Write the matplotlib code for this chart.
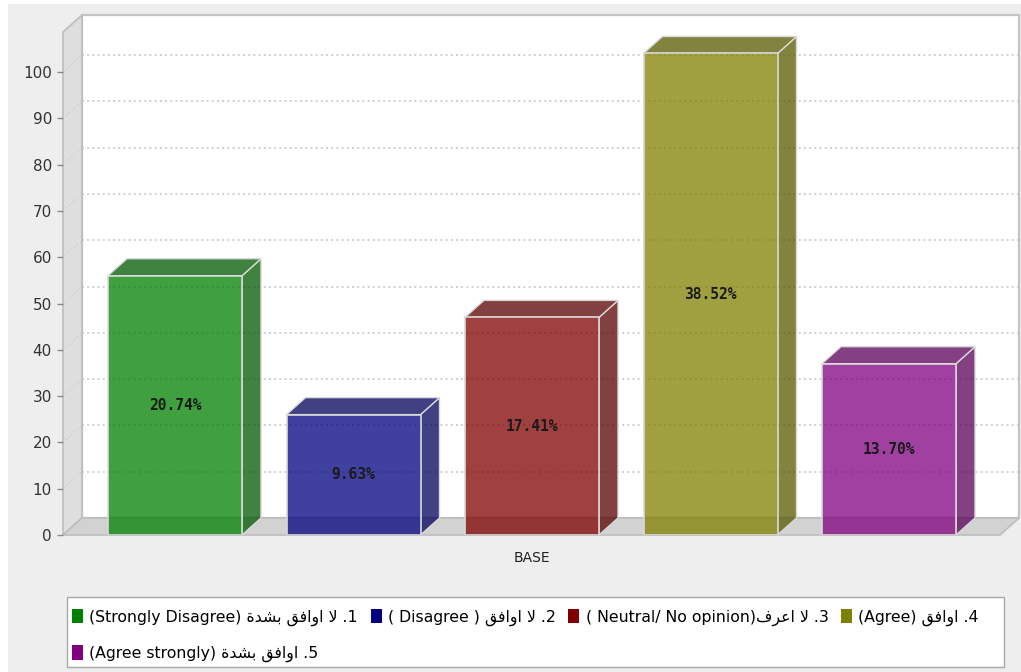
import re
import matplotlib
matplotlib.use('Agg')
import matplotlib.pyplot as plt
from matplotlib.patches import Polygon, Rectangle, Patch

# ---------------- data ----------------
category = 'BASE'
counts = [56, 26, 47, 104, 37]
legend_labels = [
    '1. لا اوافق بشدة (Strongly Disagree)',
    '2. لا اوافق ( Disagree )',
    '3. لا اعرف( Neutral/ No opinion)',
    '4. اوافق (Agree)',
    '5. اوافق بشدة (Agree strongly)',
]
yticks = [0, 10, 20, 30, 40, 50, 60, 70, 80, 90, 100]

# ---------------- style ----------------
base_colors = [(0, 0.5, 0), (0, 0, 0.5), (0.5, 0, 0), (0.5, 0.5, 0), (0.5, 0, 0.5)]
ALPHA = 0.75
W, H = 1021, 672

# --- minimal Arabic shaping (presentation forms) + visual ordering ---
FORMS = {  # isolated, final, initial, medial
    'ا': ('\uFE8D', '\uFE8E', None, None),
    'ب': ('\uFE8F', '\uFE90', '\uFE91', '\uFE92'),
    'ة': ('\uFE93', '\uFE94', None, None),
    'د': ('\uFEA9', '\uFEAA', None, None),
    'ر': ('\uFEAD', '\uFEAE', None, None),
    'ش': ('\uFEB5', '\uFEB6', '\uFEB7', '\uFEB8'),
    'ع': ('\uFEC9', '\uFECA', '\uFECB', '\uFECC'),
    'ف': ('\uFED1', '\uFED2', '\uFED3', '\uFED4'),
    'ق': ('\uFED5', '\uFED6', '\uFED7', '\uFED8'),
    'ل': ('\uFEDD', '\uFEDE', '\uFEDF', '\uFEE0'),
    'و': ('\uFEED', '\uFEEE', None, None),
    'لا': ('\uFEFB', '\uFEFC', None, None),
}


def shape(text):
    toks = []
    i = 0
    while i < len(text):
        if text[i] == 'ل' and i + 1 < len(text) and text[i + 1] == 'ا':
            toks.append('لا')
            i += 2
        else:
            toks.append(text[i])
            i += 1
    out = []
    for k, t in enumerate(toks):
        if t not in FORMS:
            out.append(t)
            continue
        prev = toks[k - 1] if k > 0 else None
        nxt = toks[k + 1] if k + 1 < len(toks) else None
        jp = prev in FORMS and FORMS[prev][2] is not None
        jn = nxt in FORMS and FORMS[t][2] is not None
        iso, fin, ini, med = FORMS[t]
        if jp and jn:
            out.append(med)
        elif jp:
            out.append(fin)
        elif jn:
            out.append(ini)
        else:
            out.append(iso)
    return ''.join(out)


def visual(label):
    m = re.match(r'(\d+)\.\s*([^(]*?)(\s*)(\(.*\))$', label)
    num, ar, sp, en = m.groups()
    return en + sp + shape(ar)[::-1] + ' .' + num


# ---------------- figure ----------------
plt.rcParams['font.family'] = ['DejaVu Sans']
fig = plt.figure(figsize=(W / 100, H / 100), dpi=100)
fig.patch.set_facecolor('white')
fig.add_artist(Rectangle((8 / W, 0), 1 - 8 / W, 1 - 4 / H, transform=fig.transFigure,
                         facecolor='#EEEEEE', edgecolor='none', zorder=-10))

ax = fig.add_axes([63 / W, (H - 535) / H, (1000 - 63) / W, (535 - 32) / H])
ax.set_facecolor('none')
for s in ax.spines.values():
    s.set_visible(False)

spacing_px = 178.5
x0 = -(175 - 63) / spacing_px
x1 = x0 + (1000 - 63) / spacing_px
ytop = 503 / 4.63
ax.set_xlim(x0, x1)
ax.set_ylim(0, ytop)

dx = 19 / spacing_px
dy = 17 / 4.63
wbar = 134 / spacing_px

# back wall
ax.add_patch(Polygon([(x0 + dx, dy), (x1 + dx, dy), (x1 + dx, ytop + dy), (x0 + dx, ytop + dy)],
                     closed=True, facecolor='white', edgecolor='#C4C4C4', lw=1.6,
                     clip_on=False, zorder=0))
# left wall
ax.add_patch(Polygon([(x0, 0), (x0 + dx, dy), (x0 + dx, ytop + dy), (x0, ytop)],
                     closed=True, facecolor='#DEDEDE', edgecolor='#BDBDBD', lw=1.2,
                     clip_on=False, zorder=0.5))
# gridlines
for v in yticks[1:]:
    ax.plot([x0 + dx, x1 + dx], [v + dy, v + dy], ls=(0, (1.2, 2.2)), color='#C0C0C0', lw=1.1,
            clip_on=False, zorder=0.6)
    ax.plot([x0, x0 + dx], [v, v + dy], ls=(0, (1.2, 2.2)), color='#CCCCCC', lw=0.8,
            clip_on=False, zorder=0.6)
# floor
ax.add_patch(Polygon([(x0, 0), (x1, 0), (x1 + dx, dy), (x0 + dx, dy)],
                     closed=True, facecolor='#D2D2D2', edgecolor='#BDBDBD', lw=1.2,
                     clip_on=False, zorder=0.7))

total = sum(counts)
edge = '#D9D9D9'
for i, c in enumerate(counts):
    bc = base_colors[i]
    dark = tuple(v * 0.7 for v in bc)
    xl, xr = i - wbar / 2, i + wbar / 2
    ax.add_patch(Polygon([(xr, 0), (xr + dx, dy), (xr + dx, c + dy), (xr, c)], closed=True,
                         facecolor=dark + (ALPHA,), edgecolor=edge, lw=1, zorder=2, clip_on=False))
    ax.add_patch(Polygon([(xl, c), (xr, c), (xr + dx, c + dy), (xl + dx, c + dy)], closed=True,
                         facecolor=dark + (ALPHA,), edgecolor=edge, lw=1, zorder=2, clip_on=False))
    ax.bar(i, c, width=wbar, color=bc + (ALPHA,), edgecolor=edge, lw=1.2, zorder=3)
    ax.text(i, c / 2, f'{100 * c / total:.2f}%', ha='center', va='center',
            family='DejaVu Sans Mono', weight='bold', fontsize=10.5, color='#1A1A1A', zorder=4)

ax.set_xticks([])
ax.set_yticks(yticks)
ax.tick_params(axis='y', length=4, width=1, color='#8A8A8A', labelcolor='#333333',
               labelsize=11, pad=4)
ax.annotate(category, xy=(0.5, 0), xycoords='axes fraction', xytext=(0, -23),
            textcoords='offset pixels', ha='center', va='center', fontsize=10, color='#222222')

# legend frame
fig.add_artist(Rectangle((67 / W, 1 - 667 / H), (1004 - 67) / W, (667 - 597) / H,
                         transform=fig.transFigure, facecolor='white', edgecolor='#A8A8A8',
                         lw=1, zorder=1))
handles = [Patch(facecolor=bc, edgecolor='none') for bc in base_colors]
labels = [visual(l) for l in legend_labels]
order = [0, 4, 1, 2, 3]
leg = fig.legend([handles[k] for k in order], [labels[k] for k in order], ncol=4,
                 loc='upper left', bbox_to_anchor=(69 / W, 1 - 606 / H),
                 frameon=False, fontsize=11.3, handlelength=0.7, handleheight=1.0,
                 handletextpad=0.4, columnspacing=0.8, labelspacing=1.25, borderpad=0.2,
                 borderaxespad=0)
leg.set_zorder(5)

fig.savefig('out.png', dpi=100, facecolor=fig.get_facecolor())
